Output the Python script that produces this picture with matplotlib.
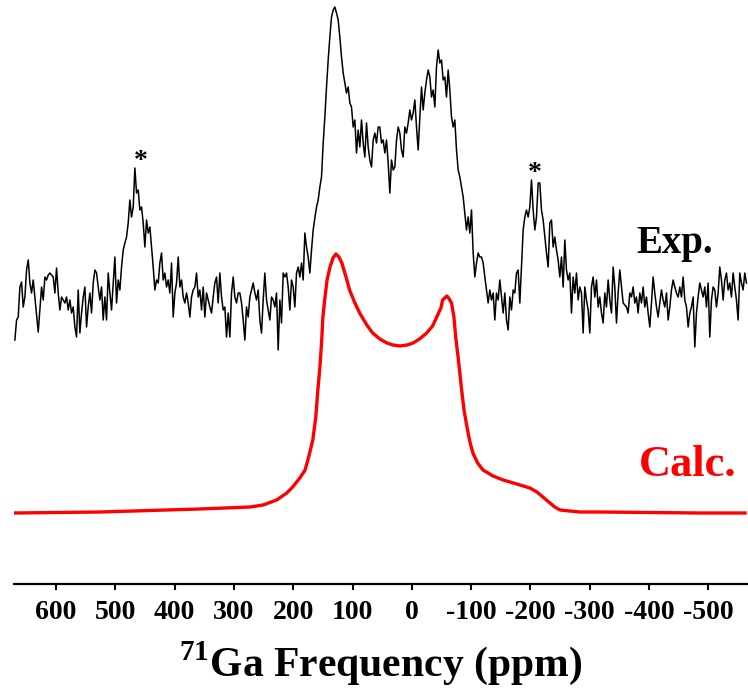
import numpy as np
import matplotlib
matplotlib.use("Agg")
import matplotlib.pyplot as plt

plt.rcParams["font.family"] = ["Liberation Serif", "DejaVu Serif"]
plt.rcParams["font.weight"] = "bold"
plt.rcParams["mathtext.fontset"] = "custom"
plt.rcParams["mathtext.rm"] = "Liberation Serif:bold"
plt.rcParams["mathtext.bf"] = "Liberation Serif:bold"

exp_start, exp_end = 669.5, -564.4
exp_intensity = [
    243, 263, 266, 296, 301, 276, 286, 313, 323, 300, 290, 303, 286, 270, 251, 273, 296,
    283, 306, 303, 308, 310, 308, 306, 290, 315, 290, 273, 286, 283, 280, 286, 273, 283,
    270, 276, 256, 246, 293, 250, 270, 286, 296, 256, 276, 290, 270, 300, 313, 310, 296,
    283, 296, 263, 286, 263, 310, 290, 273, 300, 326, 280, 303, 293, 316, 333, 340, 346,
    360, 383, 366, 376, 415, 390, 393, 373, 376, 360, 336, 363, 350, 356, 336, 316, 293,
    303, 300, 320, 330, 303, 310, 296, 303, 290, 320, 266, 290, 300, 326, 296, 303, 286,
    280, 290, 280, 266, 286, 293, 296, 310, 286, 293, 273, 296, 266, 290, 283, 276, 270,
    286, 300, 306, 280, 310, 286, 273, 276, 246, 270, 246, 290, 306, 286, 280, 290, 290,
    280, 263, 243, 276, 266, 286, 293, 300,
    290, 283, 293, 263, 250, 283, 310, 283, 273, 263, 286, 283, 276, 290, 233, 283, 260,
    310, 306, 310, 296, 273, 303, 296, 276, 310, 316, 306, 320, 303, 350, 336, 326, 310,
    333, 353, 365, 376, 383, 396, 406, 440, 466, 496, 523, 546, 566, 573, 576, 570, 563,
    546, 526, 510, 500, 490, 496, 480, 476, 456, 463, 430, 453, 436, 463, 440, 426, 460,
    436, 423, 416, 443, 450, 440, 456,
    456, 440, 443, 430, 443, 420, 390, 423, 413, 416, 443, 456, 450, 433, 426, 456, 450,
    460, 473, 463, 470, 483, 456, 433, 466, 496, 473, 490, 503, 513, 506, 486, 493, 476,
    516, 533, 520, 523, 503, 506, 486, 513, 493, 466, 456, 463, 433, 413, 406, 396, 386,
    370, 353, 366, 350, 373, 330, 306, 320, 330, 326, 326, 320, 306, 293, 280, 293, 283,
    290, 263, 290, 283, 303, 286, 270,
    290, 263, 253, 286, 273, 293, 290, 310, 313, 280, 316, 353, 366, 373, 366, 376, 403,
    373, 353, 366, 400, 400, 373, 363, 346, 330, 316, 360, 363, 336, 346, 333, 323, 306,
    326, 296, 343, 313, 303, 310, 270, 306, 290, 310, 283, 296, 290, 250, 296, 283, 273,
    250, 296, 306, 286, 303, 276, 286, 270, 260, 290, 276, 303, 283, 270, 316, 296, 260,
    290, 313, 296, 280, 278, 276,
    270, 290, 286, 296, 280, 286, 270, 290, 280, 296, 276, 286, 270, 256, 280, 306, 290,
    276, 266, 280, 293, 283, 276, 290, 263, 276, 293, 303, 296, 290, 286, 296, 286, 306,
    283, 276, 256, 270, 276, 286, 236, 270, 286, 300, 293, 286, 296, 276, 300, 246, 283,
    296, 293, 276, 290, 316, 303, 283, 303, 310, 293, 300, 286, 310, 296, 283, 263, 310,
    300, 293, 310, 300,
]
exp_ppm = np.linspace(exp_start, exp_end, len(exp_intensity))

# calculated line shape
calc_ppm = [671, 526, 358, 273, 251, 228, 211, 201, 189, 180, 174, 167, 162, 158.5,
            155, 152, 150, 147, 143, 138, 133, 128, 123, 118, 111, 105, 96, 88, 76, 66,
            54, 42, 32, 20, 8, -2, -13, -25, -35, -42, -49, -52, -59, -62, -67, -71,
            -74, -78, -81, -84, -88, -93, -98, -103, -111, -120, -137, -154, -177, -199,
            -211, -221, -233, -241, -250, -283, -317, -486, -562]
calc_intensity = [70, 71, 74, 76, 78, 83, 90, 96, 105, 113, 126, 143, 166, 193,
                  216, 243, 266, 283, 303, 316, 325, 329, 326, 320, 306, 293, 280, 270,
                  258, 250, 244, 240, 238, 237, 238, 240, 244, 250, 257, 266, 275, 283,
                  287, 285, 280, 266, 246, 226, 210, 193, 173, 156, 141, 130, 120, 113,
                  107, 103, 99, 95, 91, 86, 80, 76, 73, 71, 71, 70, 70]

ticks = [600, 500, 400, 300, 200, 100, 0, -100, -200, -300, -400, -500]
spinning_sidebands = [(457, 421), (-207, 409)]

fig = plt.figure(figsize=(7.48, 6.92), dpi=100)
ax = fig.add_axes([14 / 748, 108 / 692, 734 / 748, 584 / 692])

ax.plot(exp_ppm, exp_intensity, color="black", lw=1.1, solid_joinstyle="round")
ax.plot(calc_ppm, calc_intensity, color="#ff0000", lw=2.4, solid_joinstyle="round")

for x, y in spinning_sidebands:
    ax.text(x, y, "*", fontsize=20, fontweight="bold", ha="center", va="center")

ax.text(-443, 340, "Exp.", fontsize=28, fontweight="bold", ha="center", va="center")
ax.text(-466, 118, "Calc.", fontsize=32, fontweight="bold", color="#ff0000",
        ha="center", va="center")

ax.set_xlim(671, -567)
ax.set_ylim(-1, 583)
for side in ["left", "right", "top"]:
    ax.spines[side].set_visible(False)
ax.spines["bottom"].set_linewidth(1.6)
ax.set_yticks([])
ax.set_xticks(ticks)
ax.set_xticklabels([str(t) for t in ticks])
ax.tick_params(axis="x", direction="out", length=4.5, width=1.5, pad=7, labelsize=20)
ax.set_xlabel(r"$^{71}$Ga Frequency (ppm)", fontsize=30, fontweight="bold", labelpad=10)

fig.savefig("out.png", dpi=100)
